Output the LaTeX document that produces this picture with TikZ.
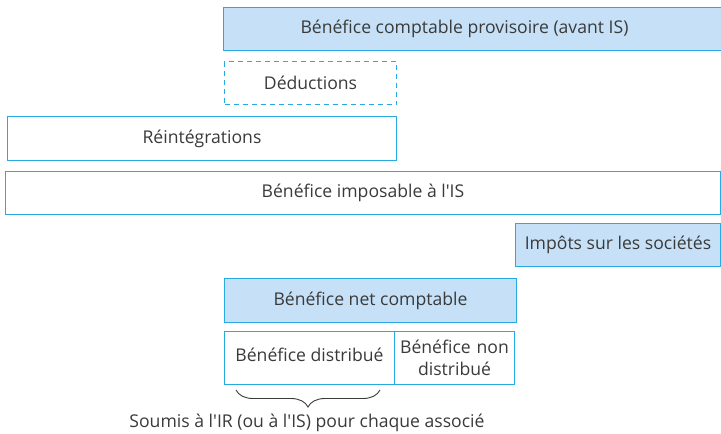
\documentclass[tikz,border=0pt]{standalone}
\usepackage{fontspec}
\setmainfont{Open Sans}
\usetikzlibrary{decorations.pathreplacing}
\definecolor{bord}{HTML}{29A9E1}
\definecolor{fillb}{HTML}{C6E1F7}
\definecolor{txt}{HTML}{3A3A3A}
\tikzset{
  lbl/.style={text=txt, font=\fontsize{17.6}{22}\selectfont, align=center, inner sep=0pt},
  box/.style={draw=bord, line width=1pt, lbl},
  fbox/.style={box, fill=fillb},
}
\begin{document}
\begin{tikzpicture}[x=1pt,y=-1pt]
\useasboundingbox (0,0) rectangle (721,434);
\node[fbox, minimum width=498, minimum height=43, anchor=north west] (bcp) at (223,7) {};
\node[lbl] (bcpt) at ([xshift=-8pt]bcp.center) {Bénéfice comptable provisoire (avant IS)};
\node[box, dashed, dash pattern=on 5pt off 4pt, minimum width=172, minimum height=43, anchor=north west] (ded) at (224,61) {Déductions};
\node[box, minimum width=389, minimum height=44, anchor=north west] (rei) at (7,116) {Réintégrations};
\node[box, minimum width=715, minimum height=43, anchor=north west] (bi) at (5,171) {Bénéfice imposable à l\textquotesingle IS};
\node[fbox, minimum width=205, minimum height=43, anchor=north west] (is) at (515,223) {Impôts sur les sociétés};
\node[fbox, minimum width=292, minimum height=44, anchor=north west] (bnc) at (224,278) {Bénéfice net comptable};
\node[box, minimum width=170, minimum height=53, anchor=north west] (bd) at (224,331) {};
\node[lbl] (bdt) at ([yshift=3.5pt]bd.center) {Bénéfice distribué};
\node[box, minimum width=120, minimum height=53, anchor=north west, text width=118] (bnd) at (394,331) {Bénéfice non\\distribué};
\coordinate (bl) at (236,390);
\coordinate (br) at (380,390);
\draw[txt, line width=0.9pt, decorate, decoration={brace, amplitude=17pt, mirror, aspect=0.5}] (bl) -- (br);
\node[lbl] (lab) at (307,423) {Soumis à l\textquotesingle IR (ou à l\textquotesingle IS) pour chaque associé};
\end{tikzpicture}
\end{document}
